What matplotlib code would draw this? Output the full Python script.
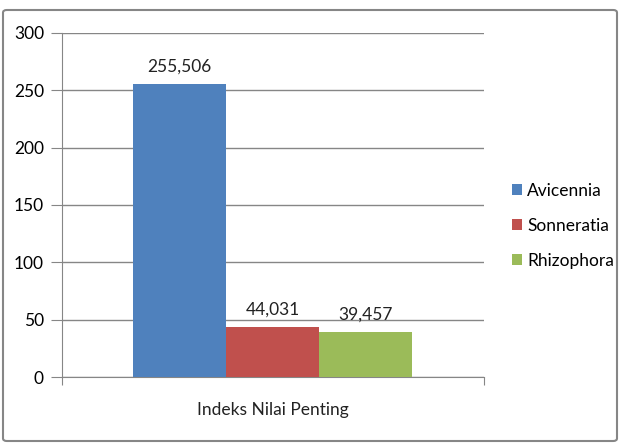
import matplotlib.pyplot as plt
from matplotlib.patches import FancyBboxPatch

# chart values
categories = ["Indeks Nilai Penting"]
species = ["Avicennia", "Sonneratia", "Rhizophora"]
values = [255.506, 44.031, 39.457]
labels = ["255,506", "44,031", "39,457"]
colors = ["#4F81BD", "#C0504D", "#9BBB59"]
yticks = [0, 50, 100, 150, 200, 250, 300]

plt.rcParams['font.family'] = ['Lato', 'DejaVu Sans']

fig = plt.figure(figsize=(6.23, 4.48), dpi=100)
ax = fig.add_axes([62 / 623, 1 - 377 / 448, 422 / 623, 344 / 448])

# outer chart border
border = FancyBboxPatch((3 / 623, 7 / 448), 614 / 623, 431 / 448,
                        boxstyle="round,pad=0,rounding_size=0.006",
                        transform=fig.transFigure, fill=False,
                        edgecolor="#868686", linewidth=1.5)
fig.patches.append(border)

bar_w = 93 / 422
start = 71 / 422
for i, (name, v, lab, c) in enumerate(zip(species, values, labels, colors)):
    x = start + bar_w * i + bar_w / 2
    ax.bar(x, v, width=bar_w, color=c, label=name, zorder=3)
    ax.text(x, v + 8, lab, ha='center', va='bottom', fontsize=12.5, color="#222222")

ax.set_xlim(0, 1)
ax.set_ylim(0, 300)
ax.set_yticks(yticks)
ax.set_yticklabels([str(t) for t in yticks], fontsize=12.5)
ax.yaxis.grid(True, color="#868686", linewidth=1, zorder=0)
ax.set_axisbelow(True)
ax.set_xticks([0, 1])
ax.set_xticklabels(["", ""])
ax.tick_params(axis='y', length=8, color="#868686", pad=5)
ax.tick_params(axis='x', length=6, color="#868686")
for s in ["top", "right"]:
    ax.spines[s].set_visible(False)
for s in ["left", "bottom"]:
    ax.spines[s].set_color("#868686")

ax.text(0.5, -0.095, categories[0], transform=ax.transAxes, ha='center', va='center',
        fontsize=12.5, color="#222222")

fig.legend(loc='center left', bbox_to_anchor=(496 / 623, 1 - 226 / 448),
           frameon=False, fontsize=12.5, handlelength=0.6, handleheight=0.6,
           handletextpad=0.3, labelspacing=1.1)

fig.savefig("out.png", dpi=100)
